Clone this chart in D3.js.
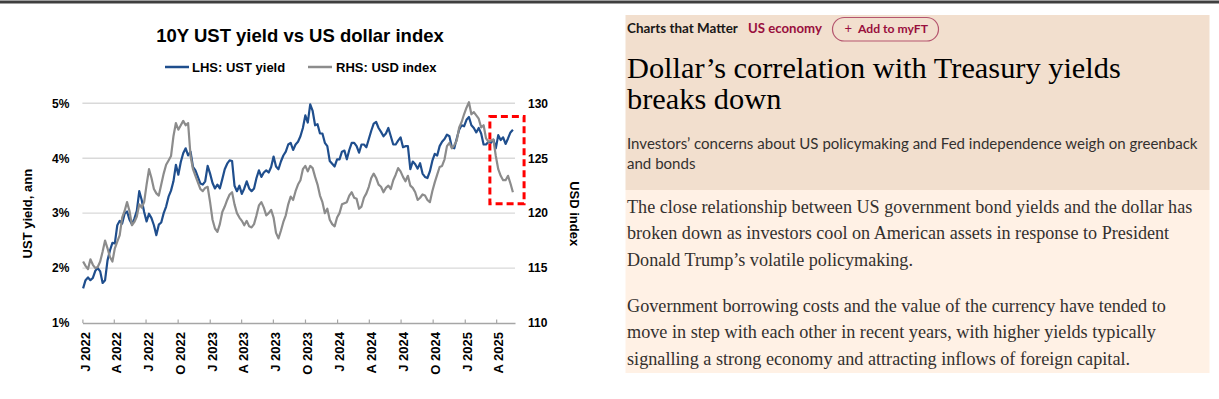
<!DOCTYPE html>
<html lang="en">
<head>
<meta charset="UTF-8">
<title>10Y UST yield vs US dollar index</title>
<script src="https://cdn.jsdelivr.net/npm/d3@7"></script>
<style>
  html, body { margin: 0; padding: 0; background: #fff; }
  svg { display: block; }
</style>
</head>
<body>
<svg id="page" width="1219" height="399"></svg>

<script>
    // weekly readings (Monday of each week)
    const ust2022 = [1.63, 1.78, 1.83, 1.78, 1.82, 1.95, 2.00, 1.94, 1.73, 1.78,
        2.14, 2.32, 2.46, 2.45, 2.78, 2.86, 2.81, 2.99, 3.03, 2.88,
        2.80, 2.90, 3.04, 3.40, 3.24, 3.02, 2.85, 2.99, 2.91, 2.78,
        2.60, 2.79, 2.83, 3.00, 3.12, 3.30, 3.41, 3.58, 3.88, 3.70,
        3.93, 4.09, 4.18, 4.05, 4.12, 3.84, 3.78, 3.66, 3.54, 3.52,
        3.58, 3.86];
    const ust2023 = [3.72, 3.55, 3.45, 3.52, 3.45, 3.62, 3.80, 3.90, 3.96, 3.95,
        3.50, 3.40, 3.50, 3.35, 3.45, 3.58, 3.45, 3.40, 3.45, 3.64,
        3.78, 3.66, 3.74, 3.78, 3.74, 3.84, 4.03, 3.85, 3.80, 3.94,
        4.05, 4.12, 4.25, 4.28, 4.15, 4.25, 4.30, 4.40, 4.55, 4.78,
        4.65, 4.98, 4.86, 4.60, 4.62, 4.45, 4.45, 4.28, 4.22, 3.95,
        3.90, 3.85];
    const ust2024 = [3.98, 3.98, 4.12, 4.14, 3.98, 4.15, 4.28, 4.28, 4.22, 4.10,
        4.25, 4.25, 4.20, 4.35, 4.50, 4.63, 4.66, 4.55, 4.48, 4.40,
        4.45, 4.55, 4.40, 4.25, 4.25, 4.32, 4.38, 4.20, 4.22, 4.22,
        3.80, 3.94, 3.89, 3.81, 3.91, 3.72, 3.66, 3.64, 3.76, 3.95,
        4.08, 4.05, 4.22, 4.30, 4.35, 4.43, 4.40, 4.20, 4.18, 4.36,
        4.52, 4.60, 4.58];
    const ust2025 = [4.70, 4.75, 4.60, 4.55, 4.47, 4.55, 4.45, 4.25, 4.25, 4.30,
        4.28, 4.34, 4.18, 4.42, 4.33, 4.38, 4.26, 4.36, 4.47, 4.52];

    const usd2022 = [115.6, 115.2, 114.9, 115.8, 115.3, 115.0, 115.1, 115.6, 116.5, 117.5,
        116.8, 116.0, 115.6, 116.8, 117.4, 118.0, 119.6, 120.2, 121.0, 120.2,
        118.9, 119.2, 119.7, 120.8, 120.5, 121.0, 122.6, 124.0, 123.2, 122.2,
        121.8, 121.6, 122.6, 123.6, 124.4, 124.8, 125.2, 127.0, 128.2, 127.6,
        128.0, 128.4, 128.0, 128.2, 125.2, 124.0, 123.4, 122.8, 122.2, 122.0,
        122.3, 122.4];
    const usd2023 = [121.0, 119.4, 118.6, 118.3, 119.0, 120.1, 120.6, 121.2, 121.7, 121.9,
        120.8, 120.0, 119.6, 119.3, 118.9, 119.3, 118.8, 118.7, 119.0, 119.8,
        120.7, 121.0, 120.5, 119.8, 120.0, 120.3, 119.6, 118.2, 117.7, 118.4,
        119.2, 119.8, 120.8, 121.5, 121.2, 122.0, 122.6, 123.0, 124.0, 124.3,
        123.8, 124.3, 124.1, 123.3, 122.6, 121.6, 121.0, 120.0, 120.4, 119.4,
        119.0, 118.8];
    const usd2024 = [119.6, 120.0, 120.8, 120.9, 121.0, 121.6, 121.9, 121.4, 121.3, 120.4,
        120.6, 121.4, 121.8, 122.4, 123.2, 123.6, 123.2, 122.6, 122.4, 121.9,
        122.3, 122.5, 122.2, 123.0, 123.5, 124.1, 123.8, 123.3, 122.9, 123.4,
        122.5, 122.3, 121.9, 121.2, 121.4, 121.7, 121.6, 121.2, 121.0, 122.0,
        122.8, 123.5, 124.2, 124.3, 124.9, 126.1, 126.4, 125.9, 126.2, 126.6,
        127.8, 128.3, 129.0];
    const usd2025 = [129.6, 130.1, 129.0, 129.2, 128.9, 128.6, 127.8, 128.0, 126.8, 126.5,
        126.6, 126.7, 125.2, 124.0, 123.4, 123.0, 123.0, 123.4, 122.7, 121.9];

    const yieldTicks = [1, 2, 3, 4, 5];
    const usdTicks = [110, 115, 120, 125, 130];
    const monthLetters = ["J", "F", "M", "A", "M", "J", "J", "A", "S", "O", "N", "D"];
    const legendLabels = ["LHS: UST yield", "RHS: USD index"];

    // FT article text
    const kicker = "Charts that Matter";
    const topic = "US economy";
    const button = "Add to myFT";
    const headline = ["Dollar\u2019s correlation with Treasury yields", "breaks down"];
    const standfirst = ["Investors\u2019 concerns about US policymaking and Fed independence weigh on greenback", "and bonds"];
    const para1 = ["The close relationship between US government bond yields and the dollar has",
        "broken down as investors cool on American assets in response to President",
        "Donald Trump\u2019s volatile policymaking."];
    const para2 = ["Government borrowing costs and the value of the currency have tended to",
        "move in step with each other in recent years, with higher yields typically",
        "signalling a strong economy and attracting inflows of foreign capital."];

    const blue = "#1f4e8d";
    const grey = "#8c8c8c";

    function weeks(year, n) {
        return d3.utcMonday.range(new Date(Date.UTC(year, 0, 1)), new Date(Date.UTC(year + 1, 0, 1))).slice(0, n);
    }
    const data = [[2022, ust2022, usd2022], [2023, ust2023, usd2023], [2024, ust2024, usd2024], [2025, ust2025, usd2025]]
        .flatMap(([yr, u, d]) => weeks(yr, u.length).map((dt, i) => ({date: dt, ust: u[i], usd: d[i]})));

    const svg = d3.select("#page");
    const font = "'Liberation Sans', Arial, sans-serif";

    // top rule
    svg.append("rect").attr("x", 0).attr("y", 0.5).attr("width", 1219).attr("height", 3).attr("fill", "#3f3f3f");

    // ---- chart ----
    const plotL = 82.4, plotR = 515, plotT = 103.3, plotB = 323;
    const x = d3.scaleUtc()
        .domain([new Date(Date.UTC(2022, 0, 1)), new Date(Date.UTC(2025, 4, 25))])
        .range([plotL, plotR]);
    const yL = d3.scaleLinear().domain([1, 5]).range([plotB, plotT]);
    const yR = d3.scaleLinear().domain([110, 130]).range([plotB, plotT]);

    const chart = svg.append("g").attr("font-family", font).attr("font-weight", "bold");

    chart.append("text")
        .attr("x", 300).attr("y", 41.5)
        .attr("text-anchor", "middle")
        .attr("font-size", 18.5)
        .text("10Y UST yield vs US dollar index");

    // legend
    const legend = chart.append("g");
    [[165, 192, blue], [308, 336, grey]].forEach(([lx, tx, c], i) => {
        legend.append("line").attr("x1", lx).attr("x2", lx + 24).attr("y1", 67).attr("y2", 67)
            .attr("stroke", c).attr("stroke-width", 2.5);
        legend.append("text").attr("x", tx).attr("y", 71.6).attr("font-size", 13).text(legendLabels[i]);
    });

    // gridlines
    chart.append("g").selectAll("line")
        .data(yieldTicks.slice(1)).enter()
        .append("line")
        .attr("x1", plotL).attr("x2", plotR)
        .attr("y1", d => yL(d)).attr("y2", d => yL(d))
        .attr("stroke", "#d9d9d9").attr("stroke-width", 1.4);

    // axes
    const fmtQ = d => monthLetters[d.getUTCMonth()] + " " + d.getUTCFullYear();
    const xAxis = chart.append("g")
        .attr("transform", "translate(0," + plotB + ")")
        .call(d3.axisBottom(x)
            .tickValues(d3.utcMonth.every(3).range(new Date(Date.UTC(2022, 0, 1)), new Date(Date.UTC(2025, 4, 2))))
            .tickFormat(fmtQ)
            .tickSize(-3.5)
            .tickSizeOuter(0));
    xAxis.select(".domain").attr("stroke", "#a6a6a6").attr("stroke-width", 1.4);
    xAxis.selectAll(".tick line").attr("stroke", "#a6a6a6").attr("stroke-width", 1.2);
    xAxis.selectAll(".tick text")
        .attr("font-family", font).attr("font-size", 13).attr("fill", "#000")
        .attr("transform", "rotate(-90)")
        .attr("text-anchor", "end")
        .attr("x", -9).attr("y", 0).attr("dy", "0.52em");

    const yAxisL = chart.append("g")
        .attr("transform", "translate(" + plotL + ",0)")
        .call(d3.axisLeft(yL).tickValues(yieldTicks).tickFormat(d => d + "%").tickSize(0).tickPadding(13));
    yAxisL.select(".domain").remove();
    yAxisL.selectAll("text").attr("font-family", font).attr("font-size", 12).attr("fill", "#000");

    const yAxisR = chart.append("g")
        .attr("transform", "translate(" + plotR + ",0)")
        .call(d3.axisRight(yR).tickValues(usdTicks).tickSize(0).tickPadding(13));
    yAxisR.select(".domain").remove();
    yAxisR.selectAll("text").attr("font-family", font).attr("font-size", 12).attr("fill", "#000");

    chart.append("text")
        .attr("transform", "translate(31.5," + ((plotT + plotB) / 2 + 0.5) + ") rotate(-90)")
        .attr("text-anchor", "middle").attr("font-size", 13)
        .text("UST yield, ann");
    chart.append("text")
        .attr("transform", "translate(570," + ((plotT + plotB) / 2 + 0.5) + ") rotate(90)")
        .attr("text-anchor", "middle").attr("font-size", 13)
        .text("USD index");

    // series
    const lineUst = d3.line().x(d => x(d.date)).y(d => yL(d.ust));
    const lineUsd = d3.line().x(d => x(d.date)).y(d => yR(d.usd));
    chart.append("path").datum(data).attr("d", lineUst)
        .attr("fill", "none").attr("stroke", blue).attr("stroke-width", 2.2).attr("stroke-linejoin", "round");
    chart.append("path").datum(data).attr("d", lineUsd)
        .attr("fill", "none").attr("stroke", grey).attr("stroke-width", 2.2).attr("stroke-linejoin", "round");

    // highlight box around the break-down
    const boxFrom = new Date(Date.UTC(2025, 2, 14)), boxTo = new Date(Date.UTC(2025, 5, 20));
    chart.append("rect")
        .attr("x", x(boxFrom)).attr("y", yL(4.76))
        .attr("width", x(boxTo) - x(boxFrom)).attr("height", yL(3.17) - yL(4.76))
        .attr("fill", "none").attr("stroke", "#ff0000").attr("stroke-width", 3)
        .attr("stroke-dasharray", "7,4");

    // ---- FT article panel ----
    const px = 627;
    svg.append("rect").attr("x", 625.5).attr("y", 15).attr("width", 584).attr("height", 175).attr("fill", "#f2dfce");
    svg.append("rect").attr("x", 625.5).attr("y", 190).attr("width", 584).attr("height", 183).attr("fill", "#fff1e5");

    const article = svg.append("g");

    // font size that makes a line span `target` px
    function fitSize(g, str, family, weight, target) {
        const t = g.append("text").attr("font-family", family).attr("font-weight", weight)
            .attr("font-size", 20).text(str);
        const w = t.node().getComputedTextLength();
        t.remove();
        return 20 * target / w;
    }
    function block(lines, y0, step, family, weight, colour, target) {
        const fs = fitSize(article, lines[0], family, weight, target);
        lines.forEach((s, i) => {
            article.append("text").attr("x", px).attr("y", y0 + i * step)
                .attr("font-family", family).attr("font-weight", weight)
                .attr("font-size", fs).attr("fill", colour).text(s);
        });
    }

    const sans = "Lato, 'Open Sans', sans-serif";
    const serif = "'Liberation Serif', 'Times New Roman', serif";

    block([kicker], 33, 0, sans, 700, "#1a1817", 111);
    article.append("text").attr("x", 748).attr("y", 33)
        .attr("font-family", sans).attr("font-weight", 700)
        .attr("font-size", fitSize(article, topic, sans, 700, 74)).attr("fill", "#990f3d").text(topic);
    article.append("rect").attr("x", 832.5).attr("y", 17.5).attr("width", 106).attr("height", 23.5)
        .attr("rx", 11.75).attr("fill", "none").attr("stroke", "#b5566f").attr("stroke-width", 1.2);
    article.append("text").attr("x", 844.5).attr("y", 33)
        .attr("font-family", sans).attr("font-size", 13).attr("fill", "#990f3d").text("+");
    article.append("text").attr("x", 858).attr("y", 33)
        .attr("font-family", sans).attr("font-weight", 700)
        .attr("font-size", fitSize(article, button, sans, 700, 70)).attr("fill", "#990f3d").text(button);

    block(headline, 78, 31.3, serif, 400, "#000", 494);
    block(standfirst, 148.5, 20.5, sans, 400, "#33302e", 571);
    block(para1, 212.5, 26.5, serif, 400, "#33302e", 566);
    block(para2, 311.5, 26.5, serif, 400, "#33302e", 539);
</script>
</body>
</html>
